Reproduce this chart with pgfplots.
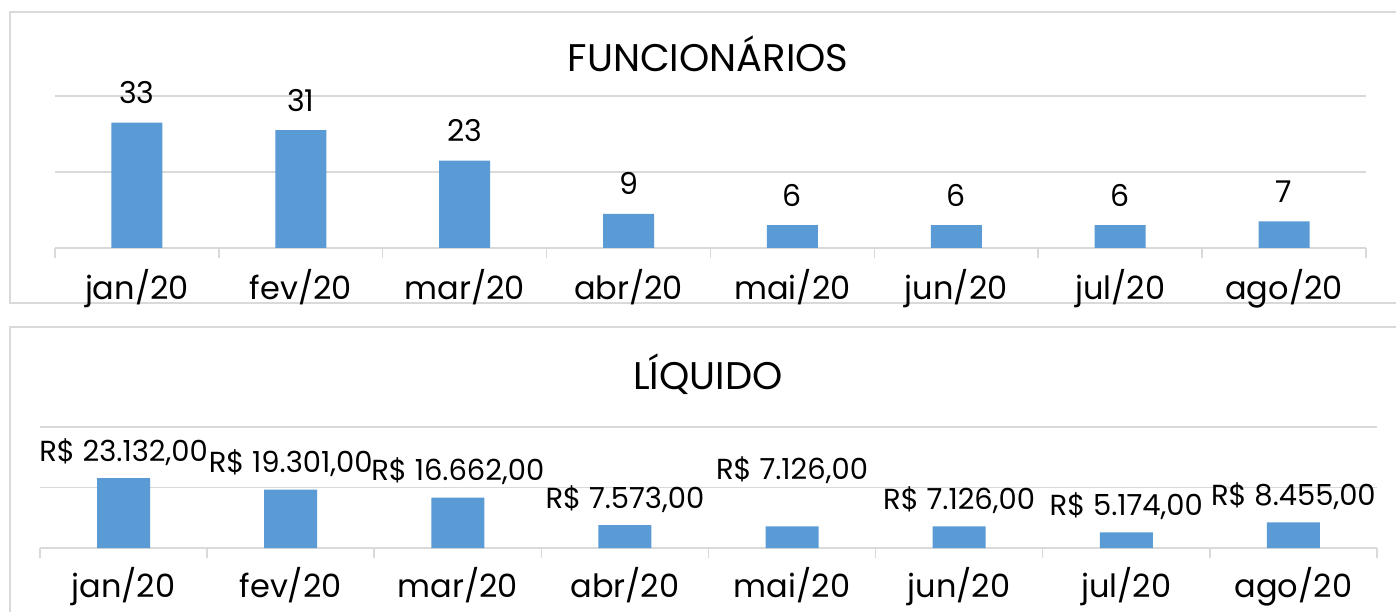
\documentclass[border=0pt]{standalone}
\usepackage{fontspec}
\setmainfont{Poppins}
\usepackage{pgfplots}
\pgfplotsset{compat=1.18}
\definecolor{barblue}{HTML}{5B9BD5}
\definecolor{gridgray}{HTML}{D9D9D9}
\pgfplotsset{
  mybars/.style={
    scale only axis, clip=false,
    xmin=-0.5, xmax=7.5, ymin=0,
    ybar, bar shift=0pt,
    xtick={0,...,7},
    xticklabels={jan/20,fev/20,mar/20,abr/20,mai/20,jun/20,jul/20,ago/20},
    minor xtick={-0.5,0.5,...,7.5},
    major tick length=0pt, minor tick length=10pt, tick align=outside,
    xtick pos=bottom, ytick pos=left,
    minor tick style={gridgray, line width=1.5pt},
    ytick style={draw=none},
    yticklabels={}, scaled y ticks=false,
    ymajorgrids, major grid style={gridgray, line width=1.5pt},
    axis line style={draw=none},
    xticklabel style={font=\fontsize{32}{36}\selectfont, anchor=base},
    /pgf/number format/assume math mode=true,
  }
}
\begin{document}
\begin{tikzpicture}[x=1pt,y=1pt]
\useasboundingbox (0,0) rectangle (1396,611);
\fill[white] (0,0) rectangle (1396,611);
\draw[gridgray, line width=1.5pt] (10,599) rectangle (1410,308);
\draw[gridgray, line width=1.5pt] (10,284) rectangle (1410,-20);
\node[font=\fontsize{38.5}{44}\selectfont, anchor=base] at (708,539) {FUNCIONÁRIOS};
\node[font=\fontsize{38.5}{44}\selectfont, anchor=base] at (708,222) {LÍQUIDO};

\begin{axis}[mybars,
  at={(55pt,363pt)}, anchor=south west,
  width=1311pt, height=152pt,
  ymax=40, ytick={0,20,40},
  bar width=51pt,
  xticklabel style={yshift=-52pt},
  nodes near coords,
  every node near coord/.append style={font=\fontsize{30}{36}\selectfont, anchor=base, yshift=19pt, inner sep=0pt},
]
\addplot[fill=barblue, draw=none] coordinates {(0,33) (1,31) (2,23) (3,9) (4,6) (5,6) (6,6) (7,7)};
\end{axis}

\begin{axis}[mybars,
  at={(40pt,63pt)}, anchor=south west,
  width=1337pt, height=121pt,
  ymax=40000, ytick={0,20000,40000},
  bar width=53pt,
  xticklabel style={yshift=-49pt},
]
\addplot[fill=barblue, draw=none,
  visualization depends on={\thisrow{dy} \as \dy},
  nodes near coords={R\$ \pgfmathprintnumber[fixed, fixed zerofill, precision=2, use comma, 1000 sep={.}]{\pgfplotspointmeta}},
  every node near coord/.append style={font=\fontsize{29}{34}\selectfont, anchor=base, yshift=17pt+\dy pt, inner sep=0pt},
] table[x=x, y=y] {
x y dy
0 23132 0
1 19301 0
2 16662 0
3 7573 0
4 7126 30
5 7126 0
6 5174 0
7 8455 0
};
\end{axis}
\end{tikzpicture}
\end{document}
